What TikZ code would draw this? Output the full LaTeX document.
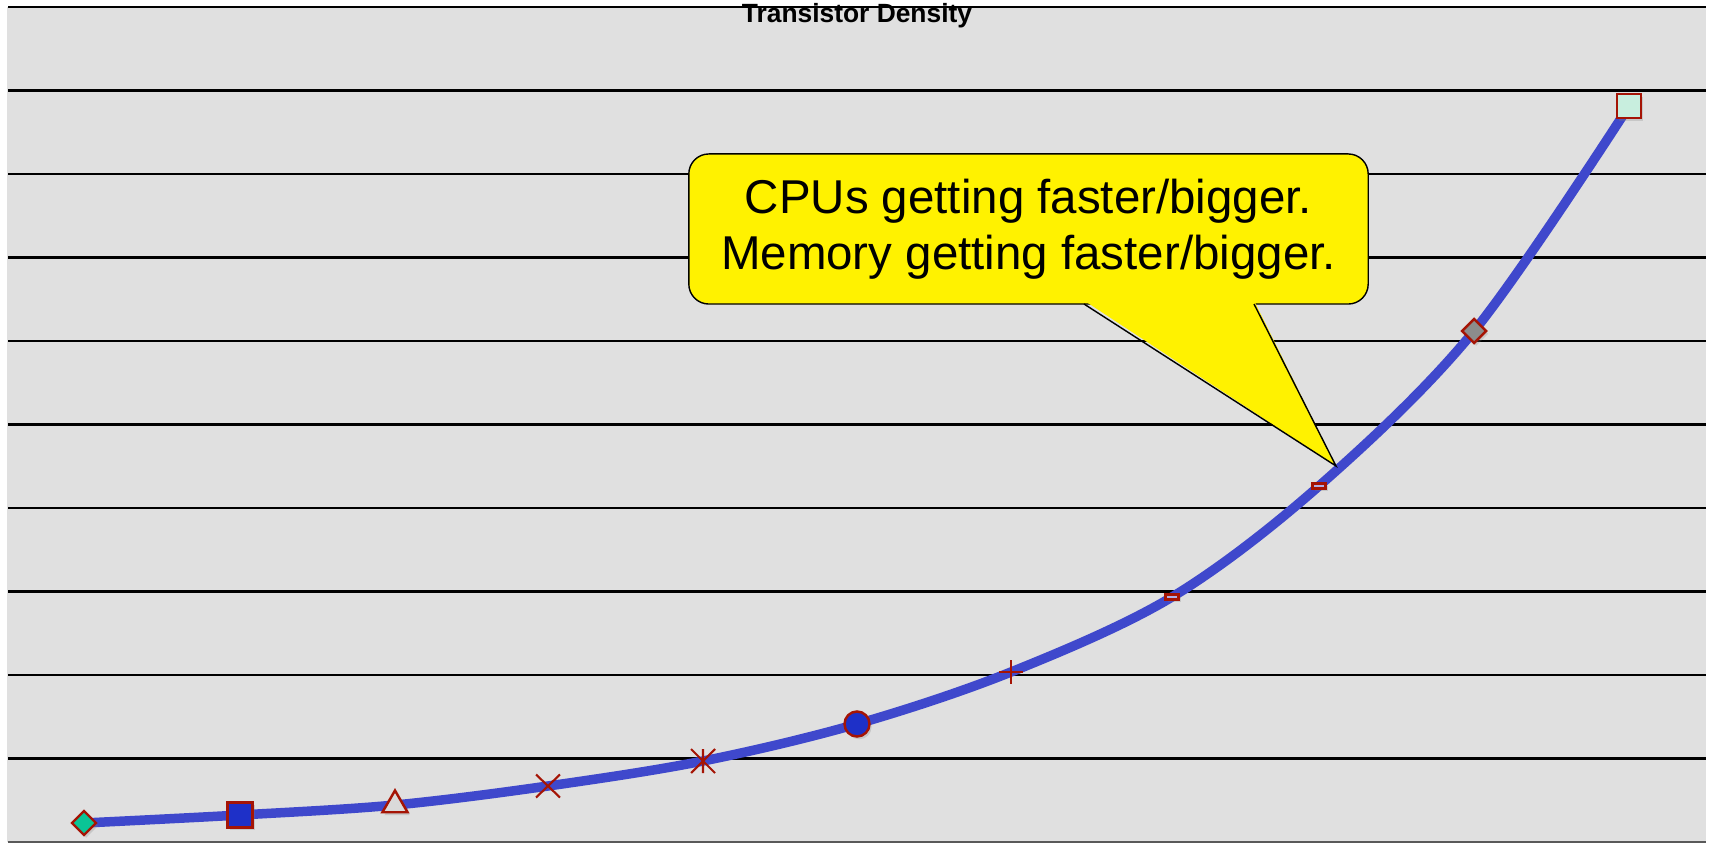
\documentclass[tikz,border=0pt]{standalone}
\usepackage{fontspec}
\setsansfont{Liberation Sans}
\usetikzlibrary{shapes.geometric,shadows}

\definecolor{plotbg}{RGB}{224,224,224}
\definecolor{trend}{RGB}{63,72,204}
\definecolor{mkred}{RGB}{165,20,5}
\definecolor{mkgreen}{RGB}{10,196,150}
\definecolor{mkblue}{RGB}{30,48,200}
\definecolor{mkgrey}{RGB}{218,218,218}
\definecolor{mklilac}{RGB}{176,176,232}
\definecolor{mkdark}{RGB}{140,140,140}
\definecolor{mkmint}{RGB}{200,238,222}

\tikzset{
  marker/.style={draw=mkred,line width=0.7pt,inner sep=0pt,
    drop shadow={opacity=0.25,shadow xshift=0.6pt,shadow yshift=-0.8pt}},
  markline/.style={draw=mkred,line width=0.6pt},
  gridline/.style={black,line width=0.6pt},
  trendline/.style={trend,line width=2.7pt,line cap=round},
  callout/.style={draw=black,line width=0.4pt,fill=yellow,rounded corners=0.2cm,
    minimum width=6.79cm,minimum height=1.5cm,align=center,
    font=\sffamily\fontsize{13.5}{15.8}\selectfont}
}

\begin{document}
\begin{tikzpicture}[x=0.01cm,y=-0.01cm]
\useasboundingbox (0,0) rectangle (1709,843);
\fill[plotbg] (7,7) rectangle (1706,842);

% horizontal grid
\foreach \k in {0,...,9}
  \draw[gridline] (8,7+83.5*\k) -- (1706,7+83.5*\k);
\draw[line width=0.6pt,black!65] (8,842) -- (1706,842);

\node [anchor=base,font=\sffamily\bfseries\fontsize{7.5}{9}\selectfont] (title) at(857,23){Transistor Density};

% data points
\coordinate (p1) at (84,823);
\coordinate (p2) at (240,815);
\coordinate (p3) at (395,805);
\coordinate (p4) at (548,786);
\coordinate (p5) at (703,761);
\coordinate (p6) at (857,724);
\coordinate (p7) at (1011,672);
\coordinate (p8) at (1172,597);
\coordinate (p9) at (1319,486);
\coordinate (p10) at (1474,331);
\coordinate (p11) at (1629,106);

\draw[trendline] plot[smooth,tension=0.55] coordinates {(p1) (p2) (p3) (p4) (p5) (p6) (p7) (p8) (p9) (p10) (p11)};

\node [marker,diamond,fill=mkgreen,minimum size=0.25cm] (m1) at(p1){};
\node [marker,rectangle,fill=mkblue,minimum size=0.25cm] (m2) at(p2){};
\node [marker,regular polygon,regular polygon sides=3,fill=mkgrey,minimum size=0.29cm] (m3) at(p3){};
\draw[markline] (p4) +(-12,-11.5) -- +(12,11.5) (p4) +(-12,11.5) -- +(12,-11.5);
\draw[markline] (p5) +(-12,-12) -- +(12,12) (p5) +(-12,12) -- +(12,-12) (p5) +(0,-12) -- +(0,12);
\node [marker,circle,fill=mkblue,minimum size=0.25cm] (m6) at(p6){};
\draw[markline] (p7) +(-12,0) -- +(12,0) (p7) +(0,-12) -- +(0,12);
\node [marker,rectangle,fill=mklilac,minimum width=0.13cm,minimum height=0.05cm] (m8) at(p8){};
\node [marker,rectangle,fill=mklilac,minimum width=0.13cm,minimum height=0.05cm] (m9) at(p9){};
\node [marker,diamond,fill=mkdark,minimum size=0.25cm] (m10) at(p10){};
\node [marker,rectangle,fill=mkmint,minimum size=0.24cm] (m11) at(p11){};

% callout
\node [callout] (note) at(1028.5,229){CPUs getting faster/bigger.\\Memory getting faster/bigger.};
\coordinate (tip) at (1336,466);
\coordinate (bl) at (1084,304);
\coordinate (br) at (1254,304);
\fill[yellow] ([yshift=1pt]bl) -- (tip) -- ([yshift=1pt]br) -- cycle;
\draw[line width=0.4pt] (bl) -- (tip) -- (br);

\end{tikzpicture}
\end{document}
